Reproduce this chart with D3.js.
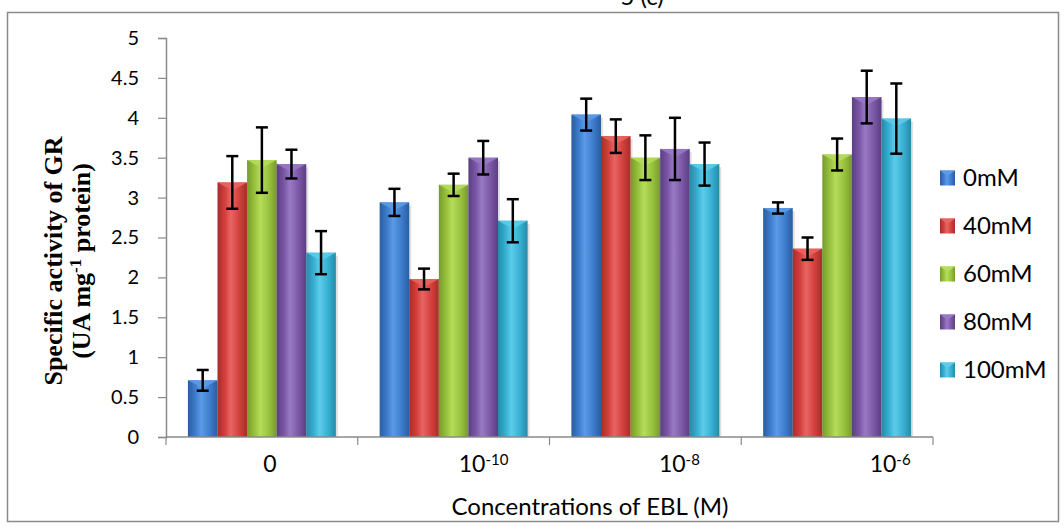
<!DOCTYPE html>
<html>
<head>
<meta charset="utf-8">
<script src="https://cdn.jsdelivr.net/npm/d3@7"></script>
<style>
  html, body { margin: 0; padding: 0; background: #fff; }
  svg { display: block; }
  .tick-label { font-family: Lato, "Open Sans", sans-serif; fill: #000; }
</style>
</head>
<body>
<svg id="chart"></svg>
<script>
// data
let categories = ["0", "1e-10", "1e-8", "1e-6"];
let catBase = ["0", "10", "10", "10"];
let catExp = ["", "-10", "-8", "-6"];
let seriesNames = ["0mM", "40mM", "60mM", "80mM", "100mM"];
let values = [
    [0.71, 2.94, 4.04, 2.87],   // 0mM
    [3.19, 1.98, 3.77, 2.36],   // 40mM
    [3.47, 3.16, 3.50, 3.54],   // 60mM
    [3.42, 3.50, 3.61, 4.26],   // 80mM
    [2.31, 2.71, 3.42, 3.99]    // 100mM
];
let errors = [
    [0.13, 0.17, 0.20, 0.07],
    [0.33, 0.13, 0.21, 0.14],
    [0.41, 0.14, 0.28, 0.20],
    [0.18, 0.21, 0.39, 0.33],
    [0.27, 0.27, 0.27, 0.44]
];
let yTicks = [0, 0.5, 1, 1.5, 2, 2.5, 3, 3.5, 4, 4.5, 5];

let colors = [
    {base: "#3d7ccc", light: "#5b9ae6", dark: "#2a5d9f"},
    {base: "#d23f3c", light: "#e86562", dark: "#a62d2b"},
    {base: "#97c13d", light: "#b5dc5a", dark: "#779a2c"},
    {base: "#7a57a6", light: "#9979c4", dark: "#5b3e80"},
    {base: "#36afd2", light: "#5dcbea", dark: "#2789a7"}
];

function drawChart() {
    let width = 1064;
    let height = 528;
    let plotLeft = 166, plotRight = 933, plotTop = 38, plotBottom = 437;

    let svg = d3.select("#chart")
        .attr("width", width)
        .attr("height", height);

    let defs = svg.append("defs");
    colors.forEach((c, i) => {
        let g = defs.append("linearGradient")
            .attr("id", "grad" + i)
            .attr("x1", "0").attr("x2", "1").attr("y1", "0").attr("y2", "0");
        g.append("stop").attr("offset", "0%").attr("stop-color", c.dark);
        g.append("stop").attr("offset", "25%").attr("stop-color", c.base);
        g.append("stop").attr("offset", "45%").attr("stop-color", c.light);
        g.append("stop").attr("offset", "75%").attr("stop-color", c.base);
        g.append("stop").attr("offset", "100%").attr("stop-color", c.dark);
    });

    // chart frame
    svg.append("rect")
        .attr("x", 7.5).attr("y", 12.5)
        .attr("width", 1051).attr("height", 509)
        .attr("fill", "none")
        .attr("stroke", "#8a8a8a")
        .attr("stroke-width", 1.5);

    // title, cut off at the top
    svg.append("text")
        .attr("x", 642).attr("y", 5)
        .attr("text-anchor", "middle")
        .style("font", "24px Lato, sans-serif")
        .text("5 (c)");

    // scales
    let x0 = d3.scaleBand()
        .domain(categories)
        .range([plotLeft, plotRight]);
    let x1 = d3.scaleBand()
        .domain(d3.range(seriesNames.length))
        .range([0, x0.bandwidth()])
        .paddingOuter(0.74);
    let y = d3.scaleLinear()
        .domain([0, 5])
        .range([plotBottom, plotTop]);

    // y axis
    let axisY = d3.axisLeft(y)
        .tickValues(yTicks)
        .tickSize(8)
        .tickPadding(19)
        .tickFormat(d3.format("~g"));
    let gy = svg.append("g")
        .attr("transform", `translate(${plotLeft}, 0)`)
        .call(axisY);
    gy.select(".domain").attr("stroke", "#8a8a8a").attr("stroke-width", 1.5);
    gy.selectAll(".tick line").attr("stroke", "#8a8a8a").attr("stroke-width", 1.2);
    gy.selectAll(".tick text")
        .attr("class", "tick-label")
        .style("font-size", "20px")
        .attr("fill", "#000");

    // bars
    let groups = svg.append("g").selectAll("g")
        .data(seriesNames)
        .enter()
        .append("g");

    groups.each(function (name, si) {
        let g = d3.select(this);
        let rows = categories.map((c, ci) => ({cat: c, v: values[si][ci], e: errors[si][ci]}));

        // soft shadow on the right
        g.selectAll(".shadow")
            .data(rows)
            .enter()
            .append("rect")
            .attr("x", d => x0(d.cat) + x1(si) + 2)
            .attr("y", d => y(d.v) + 3)
            .attr("width", x1.bandwidth())
            .attr("height", d => plotBottom - y(d.v) - 3)
            .attr("fill", "#000")
            .attr("opacity", 0.12);

        g.selectAll(".bar")
            .data(rows)
            .enter()
            .append("rect")
            .attr("x", d => x0(d.cat) + x1(si))
            .attr("y", d => y(d.v))
            .attr("width", x1.bandwidth())
            .attr("height", d => plotBottom - y(d.v))
            .attr("fill", `url(#grad${si})`);

        // top bevel
        g.selectAll(".bevel")
            .data(rows)
            .enter()
            .append("path")
            .attr("d", d => {
                let bx = x0(d.cat) + x1(si);
                let bw = x1.bandwidth();
                let by = y(d.v);
                return `M${bx},${by} L${bx + bw},${by} L${bx + bw / 2},${by + 8} Z`;
            })
            .attr("fill", colors[si].light)
            .attr("opacity", 0.9);

        // error bars
        let err = g.selectAll(".err")
            .data(rows)
            .enter()
            .append("g")
            .attr("stroke", "#000")
            .attr("stroke-width", 2.5);
        err.append("line")
            .attr("x1", d => x0(d.cat) + x1(si) + x1.bandwidth() / 2)
            .attr("x2", d => x0(d.cat) + x1(si) + x1.bandwidth() / 2)
            .attr("y1", d => y(d.v + d.e))
            .attr("y2", d => y(d.v - d.e));
        err.append("line")
            .attr("x1", d => x0(d.cat) + x1(si) + x1.bandwidth() / 2 - 6)
            .attr("x2", d => x0(d.cat) + x1(si) + x1.bandwidth() / 2 + 6)
            .attr("y1", d => y(d.v + d.e))
            .attr("y2", d => y(d.v + d.e));
        err.append("line")
            .attr("x1", d => x0(d.cat) + x1(si) + x1.bandwidth() / 2 - 6)
            .attr("x2", d => x0(d.cat) + x1(si) + x1.bandwidth() / 2 + 6)
            .attr("y1", d => y(d.v - d.e))
            .attr("y2", d => y(d.v - d.e));
    });

    // x axis: line with ticks on the band edges
    svg.append("line")
        .attr("x1", plotLeft).attr("x2", plotRight)
        .attr("y1", plotBottom).attr("y2", plotBottom)
        .attr("stroke", "#8a8a8a").attr("stroke-width", 1.5);
    let edges = categories.map(c => x0(c)).concat([x0.range()[1]]);
    svg.selectAll(".xtick")
        .data(edges)
        .enter()
        .append("line")
        .attr("x1", d => d).attr("x2", d => d)
        .attr("y1", plotBottom).attr("y2", plotBottom + 8)
        .attr("stroke", "#8a8a8a").attr("stroke-width", 1.2);

    // category labels (Excel pushed them off centre)
    let labelShift = [8, 30, 34, 53];
    let xl = svg.selectAll(".xlabel")
        .data(categories)
        .enter()
        .append("text")
        .attr("class", "tick-label")
        .attr("x", (d, i) => x0(d) + x0.bandwidth() / 2 + labelShift[i])
        .attr("y", 472)
        .attr("text-anchor", "middle")
        .style("font-size", "23px");
    xl.append("tspan").text((d, i) => catBase[i]);
    xl.append("tspan")
        .attr("dy", "-0.45em")
        .style("font-size", "15px")
        .text((d, i) => catExp[i]);

    // x axis title
    svg.append("text")
        .attr("x", 590).attr("y", 515)
        .attr("text-anchor", "middle")
        .style("font", "24px Lato, sans-serif")
        .text("Concentrations of EBL (M)");

    // y axis title, two lines, bold serif
    let yt = svg.append("text")
        .attr("transform", "translate(0, 261) rotate(-90)")
        .attr("text-anchor", "middle")
        .style("font", "bold 26px 'Liberation Serif', 'DejaVu Serif', serif");
    yt.append("tspan").attr("x", 0).attr("y", 62).text("Specific activity of  GR");
    let line2 = yt.append("tspan").attr("x", 0).attr("y", 90);
    line2.append("tspan").text("(UA  mg");
    line2.append("tspan").attr("dy", -9).style("font-size", "17px").text("-1");
    line2.append("tspan").attr("dy", 9).text(" protein)");

    // legend
    let legend = svg.selectAll(".legend")
        .data(seriesNames)
        .enter()
        .append("g")
        .attr("transform", (d, i) => `translate(940, ${178 + i * 48})`);
    legend.append("rect")
        .attr("x", 0).attr("y", -7.5)
        .attr("width", 15).attr("height", 15)
        .attr("fill", (d, i) => `url(#grad${i})`);
    legend.append("path")
        .attr("d", "M0,-7.5 L15,-7.5 L7.5,-2 Z")
        .attr("fill", (d, i) => colors[i].light);
    legend.append("text")
        .attr("x", 23).attr("y", 0)
        .attr("dy", "0.35em")
        .style("font", "24px Lato, sans-serif")
        .text(d => d);
}

drawChart();
</script>
</body>
</html>
